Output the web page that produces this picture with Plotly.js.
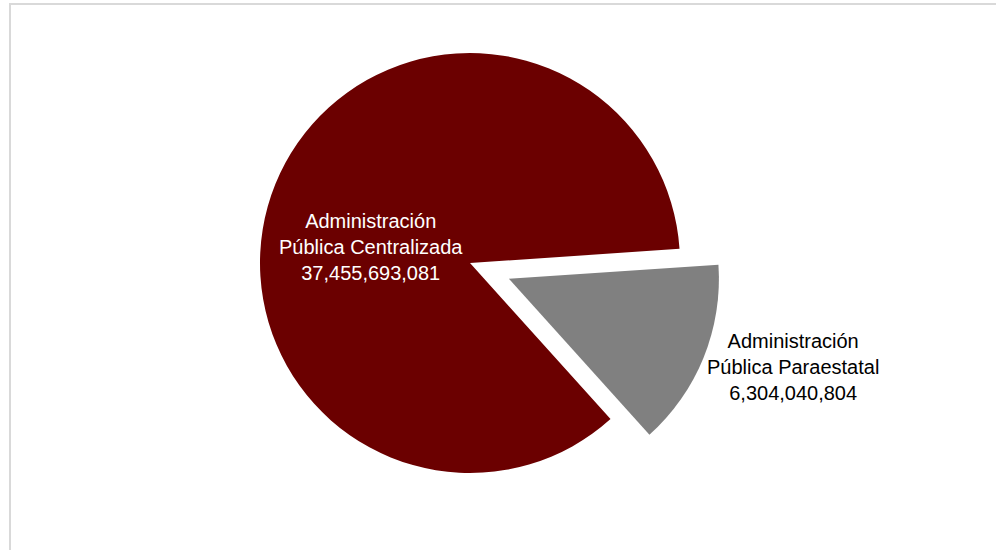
<!DOCTYPE html>
<html>
<head>
<meta charset="utf-8">
<script src="https://cdn.plot.ly/plotly-3.0.1.min.js"></script>
<style>html,body{margin:0;padding:0;background:#fff;}#chart{width:996px;height:550px;}</style>
</head>
<body>
<div id="chart"></div>
<script>
const categories = ["Administración<br>Pública Centralizada", "Administración<br>Pública Paraestatal"];
const values = [37455693081, 6304040804];
const colors = ["#6b0000", "#808080"];
const labelColors = ["#ffffff", "#000000"];
const pulls = [0, 0.2];

const fmt = v => v.toLocaleString("en-US", {maximumFractionDigits: 0});

const trace = {
  type: "pie",
  labels: categories,
  values: values,
  sort: false,
  direction: "clockwise",
  rotation: 138,
  pull: pulls,
  marker: {colors: colors, line: {width: 0}},
  textinfo: "none",
  hoverinfo: "label+value",
  showlegend: false
};

// label anchor positions (paper coords of the pie's plot area)
const labelPos = [[0.3026, 0.5317], [1.1399, 0.2937]];

const annotations = categories.map((c, i) => ({
  xref: "paper", yref: "paper",
  x: labelPos[i][0], y: labelPos[i][1],
  xanchor: "center", yanchor: "middle",
  text: c + "<br>" + fmt(values[i]),
  showarrow: false,
  align: "center",
  font: {color: labelColors[i], family: "Liberation Sans, Arial, sans-serif", size: 20}
}));

const layout = {
  width: 996,
  height: 550,
  margin: {l: 218, r: 274, t: 11, b: 35},
  paper_bgcolor: "#ffffff",
  plot_bgcolor: "#ffffff",
  showlegend: false,
  font: {family: "Liberation Sans, Arial, sans-serif"},
  annotations: annotations,
  shapes: [{
    type: "rect", xref: "paper", yref: "paper",
    x0: -0.4127, x1: 1.56, y0: -0.1, y1: 1.0139,
    line: {color: "#d9d9d9", width: 2},
    fillcolor: "rgba(0,0,0,0)",
    layer: "below"
  }]
};

Plotly.newPlot("chart", [trace], layout, {displayModeBar: false, staticPlot: true});
</script>
</body>
</html>
